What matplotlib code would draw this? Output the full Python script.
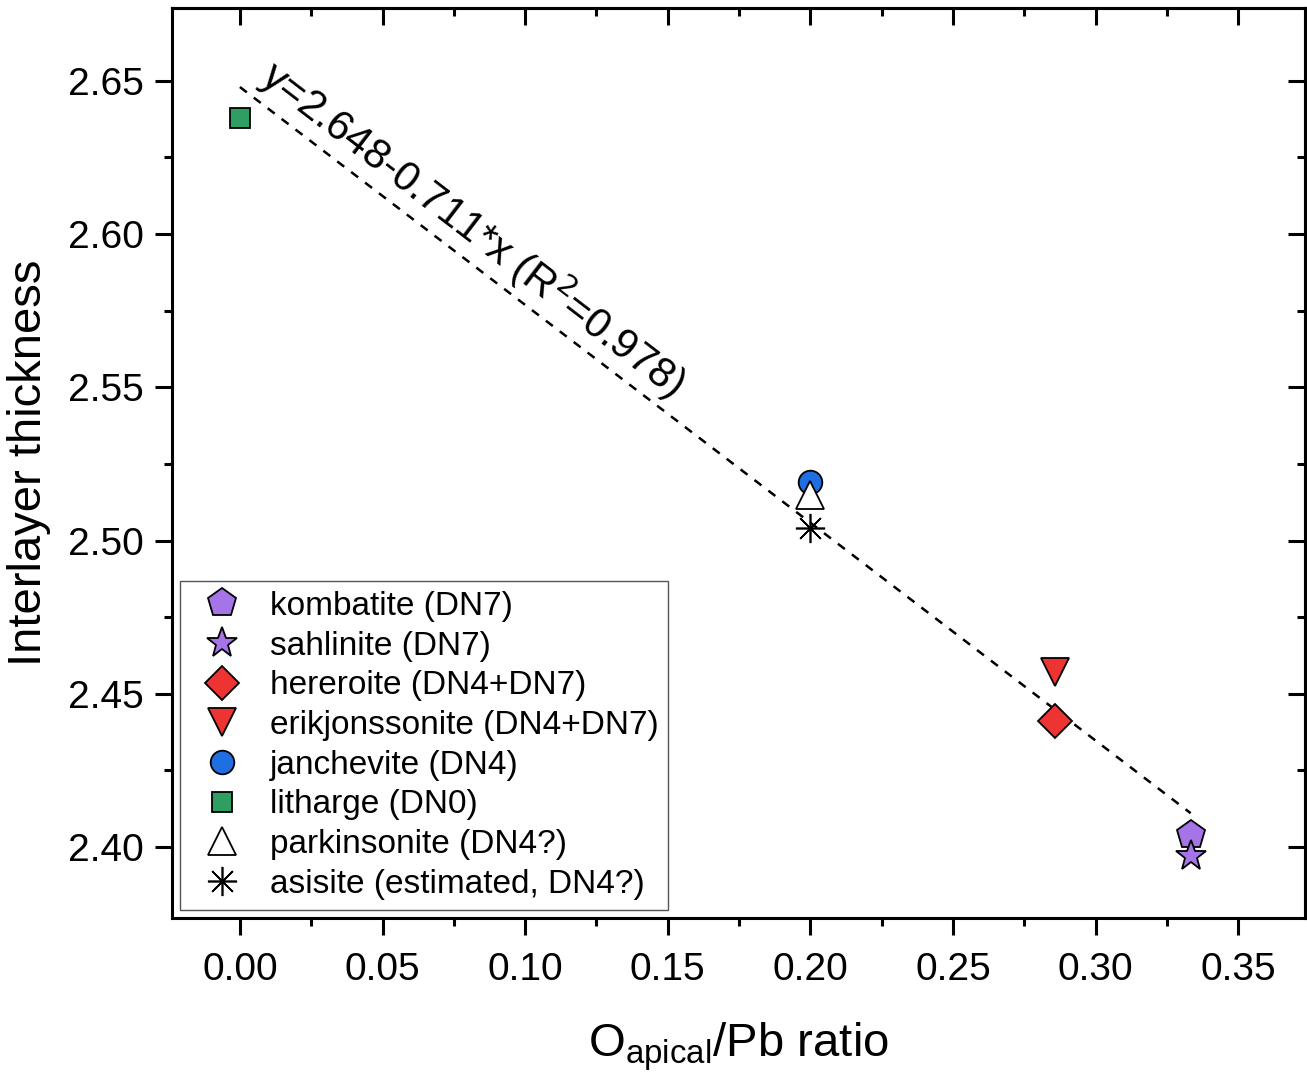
import matplotlib
matplotlib.use("Agg")
import matplotlib.pyplot as plt
import numpy as np
from matplotlib.ticker import MultipleLocator, FormatStrFormatter

plt.rcParams['font.family'] = ['Liberation Sans', 'DejaVu Sans']

names = ["kombatite (DN7)", "sahlinite (DN7)", "hereroite (DN4+DN7)",
         "erikjonssonite (DN4+DN7)", "janchevite (DN4)", "litharge (DN0)",
         "parkinsonite (DN4?)", "asisite (estimated, DN4?)"]
x_vals = [0.3333, 0.3333, 0.2857, 0.2857, 0.2, 0.0, 0.2, 0.2]
y_vals = [2.404, 2.397, 2.441, 2.457, 2.519, 2.638, 2.515, 2.504]
markers = ["p", "*", "D", "v", "o", "s", "^", "*"]
colors = ["#a574e6", "#a574e6", "#ee3333", "#ee3333", "#1f6fe3", "#2e9e62", "white", "black"]
msizes = [21, 23, 17, 20, 17, 14.5, 20, 21]

fit_intercept = 2.648
fit_slope = -0.711
fit_x = [0.0, 0.3333]

fig = plt.figure(figsize=(13.07, 10.76), dpi=100)
ax = fig.add_axes([0.1316, 0.1468, 0.8669, 0.8458])

fx = np.array(fit_x)
ax.plot(fx, fit_intercept + fit_slope * fx, linestyle=(0, (3.5, 3.5)), color="black", lw=1.8, zorder=2)

for n, xv, yv, m, c, s in zip(names, x_vals, y_vals, markers, colors, msizes):
    if n.startswith("asisite"):
        ax.plot([xv], [yv], linestyle="none", marker=(8, 2, 0), markersize=s,
                color="black", markeredgewidth=1.2, label=n, zorder=3)
    else:
        ax.plot([xv], [yv], linestyle="none", marker=m, markersize=s,
                markerfacecolor=c, markeredgecolor="black", markeredgewidth=1.3,
                label=n, zorder=3)

ax.text(0.0063, 2.6500, "y=2.648-0.711*x (R$^2$=0.978)", rotation=-37.5,
        rotation_mode="anchor", ha="left", va="baseline", fontsize=30)

ax.set_xlim(-0.0238, 0.3734)
ax.set_ylim(2.3768, 2.6738)
ax.xaxis.set_major_locator(MultipleLocator(0.05))
ax.xaxis.set_minor_locator(MultipleLocator(0.025))
ax.yaxis.set_major_locator(MultipleLocator(0.05))
ax.yaxis.set_minor_locator(MultipleLocator(0.025))
ax.xaxis.set_major_formatter(FormatStrFormatter('%.2f'))
ax.yaxis.set_major_formatter(FormatStrFormatter('%.2f'))

ax.tick_params(which="major", direction="out", length=12.5, width=2.2, labelsize=28, pad=8)
ax.tick_params(axis="x", which="major", pad=12)
ax.tick_params(which="minor", direction="out", length=6, width=2.2)

axt = ax.secondary_xaxis("top")
axt.xaxis.set_major_locator(MultipleLocator(0.05))
axt.xaxis.set_minor_locator(MultipleLocator(0.025))
axt.tick_params(which="major", direction="in", length=12.5, width=2.2, labeltop=False)
axt.tick_params(which="minor", direction="in", length=6, width=2.2)
axt.spines["top"].set_linewidth(2.2)
axr = ax.secondary_yaxis("right")
axr.yaxis.set_major_locator(MultipleLocator(0.05))
axr.yaxis.set_minor_locator(MultipleLocator(0.025))
axr.tick_params(which="major", direction="in", length=12.5, width=2.2, labelright=False)
axr.tick_params(which="minor", direction="in", length=6, width=2.2)
axr.spines["right"].set_linewidth(2.2)

for sp in ax.spines.values():
    sp.set_linewidth(2.2)

ax.set_xlabel("O$_{\\mathregular{apical}}$/Pb ratio", fontsize=34, labelpad=23)
ax.set_ylabel("Interlayer thickness", fontsize=34, labelpad=12)

leg = ax.legend(loc="lower left", fontsize=24, frameon=True, fancybox=False,
                edgecolor="#555555", framealpha=1, borderaxespad=0.25,
                handletextpad=0.48, labelspacing=0.26, borderpad=0.3,
                markerscale=1.0, handlelength=1.9)
leg.get_frame().set_linewidth(1.0)

fig.savefig("out.png", dpi=100)
